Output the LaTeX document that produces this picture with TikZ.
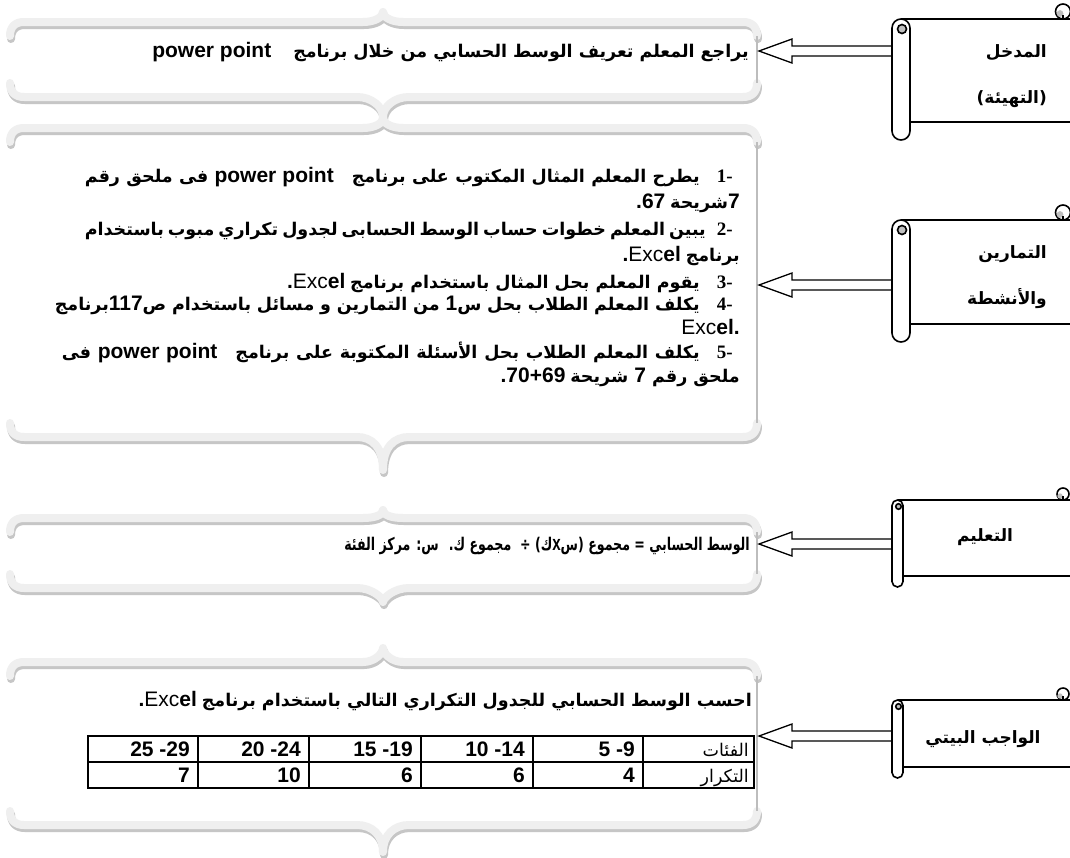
\documentclass[tikz,border=0pt]{standalone}
\usepackage{fontspec}
\setmainfont{Liberation Sans}
\newfontfamily\arf[Script=Arabic]{DejaVu Sans}
\newfontfamily\latf{Liberation Sans}
\newfontfamily\serf{Liberation Serif}
\TeXXeTstate=1
\definecolor{bandc}{HTML}{EFEFEF}
\definecolor{shadc}{HTML}{C6C6C6}
\definecolor{edgec}{HTML}{BDBDBD}
\definecolor{curlc}{HTML}{BFBFBF}
\newcommand\AR[1]{{\arf\bfseries\beginR #1\endR}}
\newcommand\ARr[1]{{\arf\beginR #1\endR}}
\newcommand\LB[1]{\beginL{\latf\bfseries\fontsize{21}{24}\selectfont #1}\endL{}}
\newcommand\LT[1]{{\latf\bfseries\fontsize{21}{24}\selectfont #1}}
\newcommand\LRg[1]{{\latf\fontsize{21}{24}\selectfont #1}}
% brace box: top, bottom, top bump, bottom bump
\newcommand\bracebox[4]{%
  \foreach \s/\c in {{(1,3)}/shadc,{(0,0)}/bandc}{%
    \draw[band,draw=\c,shift=\s]
      (10,{#1+14}) .. controls (10,{#1+5}) and (15,#1) .. (24,#1)
      -- (363,#1) .. controls (375,#1) and (383,{#1-#3+5}) .. (383,{#1-#3})
      .. controls (383,{#1-#3+5}) and (391,#1) .. (403,#1)
      -- (743,#1) .. controls (752,#1) and (757,{#1+5}) .. (757,{#1+14});
    \draw[band,draw=\c,shift=\s]
      (10,{#2-14}) .. controls (10,{#2-5}) and (15,#2) .. (24,#2)
      -- (357,#2) .. controls (372,#2) and (383,{#2+10}) .. (383,{#2+#4})
      .. controls (383,{#2+10}) and (394,#2) .. (409,#2)
      -- (743,#2) .. controls (752,#2) and (757,{#2-5}) .. (757,{#2-14});
  }
  \draw[edgec,line width=2pt] (757,{#1+14}) -- (757,{#2-14});
}
% hollow arrow: y
\newcommand\harrow[1]{%
  \draw[arrowline] (759,#1) -- (792,{#1-12}) -- (792,{#1-5}) -- (896,{#1-5})
    -- (896,{#1+5}) -- (792,{#1+5}) -- (792,{#1+12}) -- cycle;}
% scroll: top, bottom, roll width, corner radius, curl radius
\newcommand\scroll[5]{%
  \fill[white] ({892+#3/2},#1) rectangle (1075,#2);
  \draw[sline] (1075,#1) -- ({892+#3/2},#1);
  \draw[sline] (1075,#2) -- ({892+#3},#2);
  \draw[sline,fill=white] (1063,{#1-#5}) circle[radius=#5];
  \fill[curlc] (1060,{#1-#5+2}) circle[radius={#5*0.45}];
  \draw[sline] (1063,{#1-#5+#5*0.4}) -- (1063,#1);
  \draw[sline,fill=white,rounded corners=#4] (892,#1) rectangle ({892+#3},{#2+#3});
  \draw[sline,fill=curlc] ({892+#3/2+1},{#1+#3/2+1}) circle[radius={#3/4}];
}
\tikzset{
  band/.style={line width=8pt,line cap=round,line join=round},
  arrowline/.style={draw=black,line width=1.3pt,fill=white,line join=miter},
  sline/.style={draw=black,line width=1.6pt},
  txt/.style={inner sep=0pt,font=\fontsize{17.5}{20}\selectfont},
  stxt/.style={inner sep=0pt,font=\fontsize{17}{20}\selectfont,anchor=base east},
  cell/.style={inner sep=0pt,font=\fontsize{17.5}{20}\selectfont,anchor=base east},
  grid/.style={draw=black,line width=2pt},
}
\begin{document}
\begin{tikzpicture}[x=1pt,y=-1pt]
\useasboundingbox (0,0) rectangle (1070,857);
\fill[white] (0,0) rectangle (1070,857);
% ---------- brace boxes
\bracebox{22}{97}{10}{20}
\bracebox{128}{437}{10}{33}
\bracebox{518}{588}{8}{14}
\bracebox{662}{825}{14}{27}
% ---------- arrows
\harrow{51}
\harrow{285}
\harrow{544}
\harrow{736}
% ---------- scrolls
\scroll{19}{122}{18}{9}{7.5}
\scroll{220}{324}{18}{9}{7.5}
\scroll{500}{576}{11}{5.5}{6}
\scroll{700}{767}{11}{5.5}{6}
\node[stxt] (s1a) at (1047,57) {\AR{المدخل}};
\node[stxt] (s1b) at (1047,103) {\AR{(التهيئة)}};
\node[stxt] (s2a) at (1047,258) {\AR{التمارين}};
\node[stxt] (s2b) at (1047,304) {\AR{والأنشطة}};
\node[stxt,anchor=base] (s3) at (985,541) {\AR{التعليم}};
\node[stxt,anchor=base] (s4) at (983,743) {\AR{الواجب البيتي}};
% ---------- box 1
\node[txt,anchor=base east] (t1) at (749,57) {\AR{يراجع المعلم تعريف الوسط الحسابي من خلال برنامج\hspace{22pt}\LB{power point}}};
% ---------- box 2
\foreach \n/\y in {1/182,2/235,3/288,4/310,5/358}{
  \node[txt,anchor=base east] (num\n) at (733,\y) {{\serf\bfseries\fontsize{19}{22}\selectfont \n-}};
}
\node[txt,anchor=base east] (l1) at (700,182) {\makebox[615pt][s]{\AR{يطرح المعلم المثال المكتوب على برنامج\hspace{18pt}\LB{power point} فى ملحق رقم}}};
\node[txt,anchor=base east] (l2) at (740,208) {\LT{.67} \AR{\LB{7}شريحة}};
\node[txt,anchor=base east] (l3) at (700,235) {\makebox[615pt][s]{\AR{يبين المعلم خطوات حساب الوسط الحسابى لجدول تكراري مبوب باستخدام}}};
\node[txt,anchor=base east] (l4) at (740,261) {\LT{.}\LRg{Exc}\LT{el} \AR{برنامج}};
\node[txt,anchor=base east] (l5) at (700,288) {\LT{.}\LRg{Exc}\LT{el} \AR{يقوم المعلم بحل المثال باستخدام برنامج}};
\node[txt,anchor=base east] (l6) at (700,310) {\makebox[645pt][s]{\AR{يكلف المعلم الطلاب بحل س\LB{1} من التمارين و مسائل باستخدام ص\LB{117}برنامج}}};
\node[txt,anchor=base east] (l7) at (740,334) {\LRg{Exc}\LT{el.}};
\node[txt,anchor=base east] (l8) at (700,358) {\makebox[638pt][s]{\AR{يكلف المعلم الطلاب بحل الأسئلة المكتوبة على برنامج\hspace{18pt}\LB{power point} فى}}};
\node[txt,anchor=base east] (l9) at (740,382) {\LT{.70+69} \AR{ملحق رقم \LB{7} شريحة}};
% ---------- box 3
\node[txt,anchor=base east] (t3) at (750,550) {\scalebox{0.72}[1]{\AR{الوسط الحسابي = مجموع (س\LB{x}ك) ÷\hspace{6pt} مجموع ك.\hspace{14pt}س: مركز الفئة}}};
% ---------- box 4
\node[txt,anchor=base east] (t4) at (752,706) {\LT{.}\LRg{Exc}\LT{el} \AR{احسب الوسط الحسابي للجدول التكراري التالي باستخدام برنامج}};
\draw[grid] (88,736) rectangle (754,788);
\draw[grid] (88,762) -- (754,762);
\foreach \x in {198,309,421,533,643}{\draw[grid] (\x,736) -- (\x,788);}
\foreach \r/\a/\b in {198/25 -29/7,309/20 -24/10,421/15 -19/6,533/10 -14/6,643/5 -9/4}{
  \node[cell] at ({\r-8},756) {\LT{\a}};
  \node[cell] at ({\r-8},782) {\LT{\b}};
}
\node[cell] (h1) at (749,756) {\ARr{الفئات}};
\node[cell] (h2) at (749,782) {\ARr{التكرار}};
\end{tikzpicture}
\end{document}
